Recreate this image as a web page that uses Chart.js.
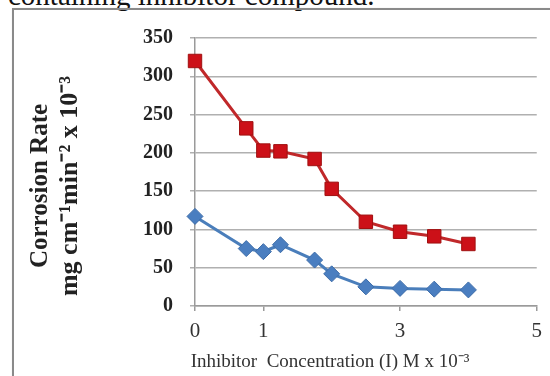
<!DOCTYPE html>
<html>
<head>
<meta charset="utf-8">
<script src="https://cdn.jsdelivr.net/npm/chart.js@4"></script>
<style>
  html, body { margin: 0; padding: 0; background: #fff; overflow: hidden; }
  #wrap { position: relative; width: 550px; height: 376px; }
  #caption { position: absolute; left: 8px; top: -19px; font: 29px 'Liberation Serif', serif; line-height: 1; color: #111; white-space: nowrap; }
  #frame { position: absolute; left: 12px; top: 8px; width: 600px; height: 420px; border: 2px solid #8a8a8a; box-shadow: 1px 1px 2px #bbb; }
  #chart { position: absolute; left: 0; top: 0; }
</style>
</head>
<body>
<div id="wrap">
  <div id="caption">containing inhibitor compound.</div>
  <div id="frame"></div>
  <canvas id="chart" width="550" height="376"></canvas>
</div>
<script>
// inhibitor concentration (M x 10^-3)
const concentration = [0, 0.75, 1, 1.25, 1.75, 2, 2.5, 3, 3.5, 4];
// corrosion rate, upper (red) and lower (blue) series
const rateRed  = [320, 232, 203, 202, 192, 153, 110, 97, 91, 81];
const rateBlue = [117, 75, 71, 80, 60, 42, 25, 23, 22, 21];
const xTickLabels = [0, 1, 3, 5];
const yTitle = ['Corrosion Rate', 'mg cm\u207B\u00B9min\u207B\u00B2 x 10\u207B\u00B3'];
const xTitle = 'Inhibitor  Concentration (I) M x 10\u207B\u00B3';

function toPoints(ys) {
    return concentration.map((x, i) => ({ x: x, y: ys[i] }));
}

// axis titles drawn by hand so they sit where the original had them
const axisTitles = {
    id: 'axisTitles',
    afterDraw(chart) {
        const ctx = chart.ctx;
        ctx.save();
        ctx.fillStyle = '#222';
        ctx.textAlign = 'center';
        ctx.textBaseline = 'middle';
        ctx.translate(0, 186);
        ctx.rotate(-Math.PI / 2);
        ctx.font = 'bold 25px "Liberation Serif", serif';
        ctx.fillText(yTitle[0], 0, 41);
        ctx.font = 'bold 26px "Liberation Serif", serif';
        ctx.fillText(yTitle[1], 0, 70);
        ctx.restore();

        ctx.save();
        ctx.fillStyle = '#333';
        ctx.textAlign = 'center';
        ctx.textBaseline = 'middle';
        ctx.font = '19px "Liberation Serif", serif';
        ctx.fillText(xTitle, 330, 362);
        ctx.restore();
    }
};

new Chart(document.getElementById('chart'), {
    type: 'scatter',
    data: {
        datasets: [
            {
                label: 'red',
                data: toPoints(rateRed),
                showLine: true,
                clip: false,
                borderColor: '#c0282a',
                borderWidth: 3,
                pointStyle: 'rect',
                pointRadius: 9.5,
                pointBackgroundColor: '#cc1018',
                pointBorderColor: '#a01010',
                pointBorderWidth: 1,
            },
            {
                label: 'blue',
                data: toPoints(rateBlue),
                showLine: true,
                clip: false,
                borderColor: '#4a7ebb',
                borderWidth: 3,
                pointStyle: 'rectRot',
                pointRadius: 8,
                pointBackgroundColor: '#4a7ec0',
                pointBorderColor: '#3d6ca8',
                pointBorderWidth: 1,
            },
        ]
    },
    options: {
        responsive: false,
        animation: false,
        layout: { padding: { left: 0, top: 38, right: 12, bottom: 0 } },
        scales: {
            x: {
                type: 'linear',
                min: 0,
                max: 5,
                afterBuildTicks: (scale) => { scale.ticks = xTickLabels.map(v => ({ value: v })); },
                afterFit: (scale) => { scale.height = 70; },
                ticks: {
                    padding: 8,
                    color: '#333',
                    font: { family: '"Liberation Serif", serif', size: 21 },
                },
                grid: { drawOnChartArea: false, color: '#9a9a9a', tickLength: 5, lineWidth: 1.5 },
                border: { color: '#9a9a9a', width: 1.5 },
            },
            y: {
                min: 0,
                max: 350,
                afterFit: (scale) => { scale.width = 195; },
                ticks: {
                    stepSize: 50,
                    padding: 17,
                    color: '#222',
                    font: { family: '"Liberation Serif", serif', size: 20, weight: 'bold' },
                },
                grid: { color: '#b0b0b0', tickLength: 5, lineWidth: 1.5 },
                border: { color: '#9a9a9a', width: 1.5 },
            },
        },
        plugins: {
            legend: { display: false },
            tooltip: { enabled: false },
        }
    },
    plugins: [axisTitles]
});
</script>
</body>
</html>
